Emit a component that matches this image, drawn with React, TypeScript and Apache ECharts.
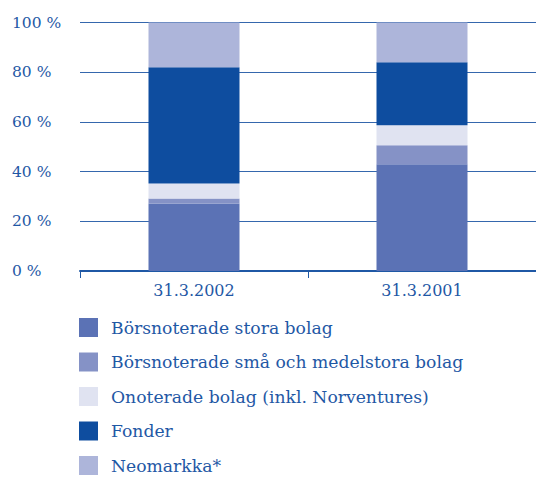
import React, { useEffect, useRef } from "react";
import * as echarts from "echarts";

const categories = ["31.3.2002", "31.3.2001"];
const seriesNames = [
  "Börsnoterade stora bolag",
  "Börsnoterade små och medelstora bolag",
  "Onoterade bolag (inkl. Norventures)",
  "Fonder",
  "Neomarkka*",
];
const storaBolag = [27.2, 43.0];
const smaBolag = [2.0, 7.6];
const onoterade = [6.0, 8.1];
const fonder = [46.8, 25.3];
const neomarkka = [18.0, 16.0];
const yTicks = [0, 20, 40, 60, 80, 100];

const colors = ["#5b72b5", "#8592c6", "#e0e3f1", "#0e4d9f", "#adb5da"];
const textColor = "#1f58a5";
const font = "DejaVu Serif";

export default function App() {
  const ref = useRef<HTMLDivElement>(null);
  useEffect(() => {
    document.body.style.margin = "0";
    if (!ref.current) return;
    const chart = echarts.init(ref.current, undefined, { renderer: "svg" });
    const values = [storaBolag, smaBolag, onoterade, fonder, neomarkka];
    chart.setOption({
      animation: false,
      grid: { left: 80, top: 22.5, width: 460, height: 248.5, containLabel: false },
      legend: {
        orient: "vertical",
        left: 79,
        top: 318,
        height: 170,
        padding: 0,
        itemWidth: 19,
        itemHeight: 19,
        itemGap: 15.5,
        icon: "rect",
        selectedMode: false,
        data: seriesNames,
        textStyle: {
          color: textColor,
          fontFamily: font,
          fontSize: 17.2,
          padding: [0, 0, 0, 8],
        },
      },
      xAxis: {
        type: "category",
        data: categories,
        axisLine: { lineStyle: { color: "#1f58a5", width: 2 } },
        axisTick: { show: true, length: 7, lineStyle: { color: "#1f58a5", width: 1 } },
        axisLabel: { color: textColor, fontFamily: font, fontSize: 16, margin: 11 },
      },
      yAxis: {
        type: "value",
        min: yTicks[0],
        max: yTicks[yTicks.length - 1],
        interval: 20,
        axisLine: { show: false },
        axisTick: { show: false },
        splitLine: { lineStyle: { color: "#3567ad", width: 1 } },
        axisLabel: {
          color: textColor,
          fontFamily: font,
          fontSize: 15.5,
          align: "left",
          margin: 68,
          formatter: (v: number) => `${v} %`,
        },
      },
      series: seriesNames.map((name, i) => ({
        name,
        type: "bar",
        stack: "total",
        data: values[i],
        barWidth: 91,
        itemStyle: { color: colors[i] },
      })),
    });
    return () => chart.dispose();
  }, []);
  return <div ref={ref} style={{ width: 536, height: 479 }} />;
}
